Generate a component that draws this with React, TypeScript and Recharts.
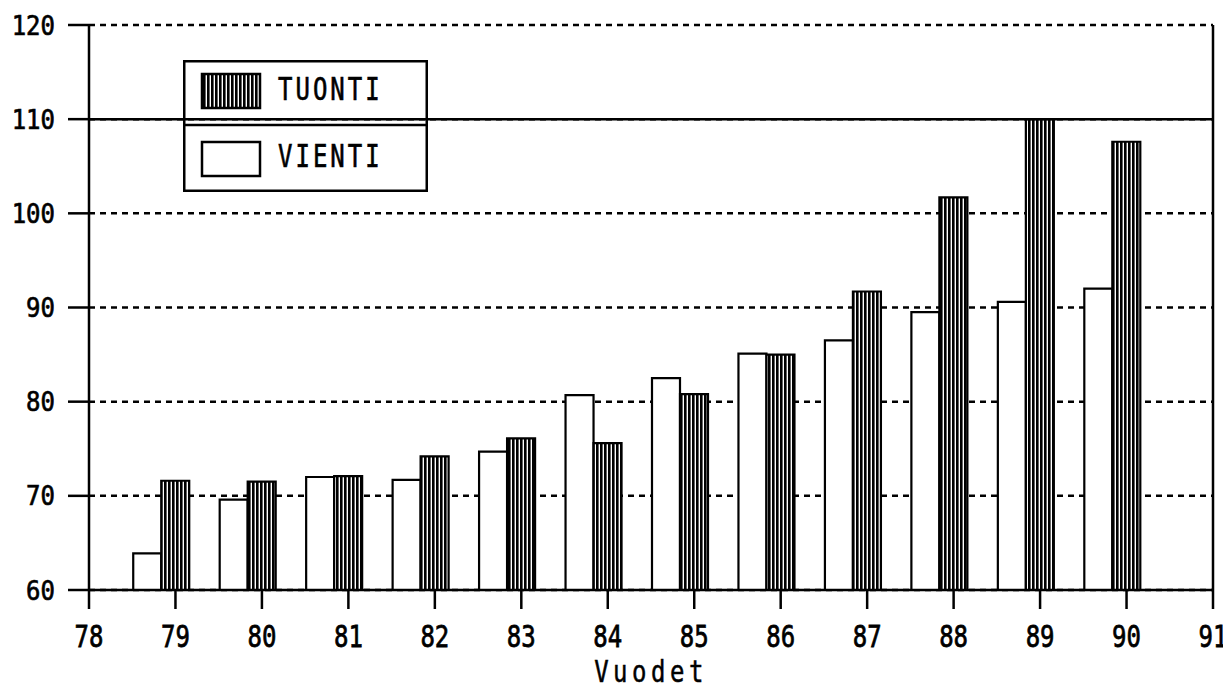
import { BarChart, Bar, XAxis, YAxis, CartesianGrid, ReferenceLine } from "recharts";

const years = [79, 80, 81, 82, 83, 84, 85, 86, 87, 88, 89, 90];
const vienti = [63.9, 69.6, 72.0, 71.7, 74.7, 80.7, 82.5, 85.1, 86.5, 89.5, 90.6, 92.0];
const tuonti = [71.6, 71.5, 72.1, 74.2, 76.1, 75.6, 80.8, 85.0, 91.7, 101.7, 110.0, 107.6];
const xTicks = [78, 79, 80, 81, 82, 83, 84, 85, 86, 87, 88, 89, 90, 91];
const yTicks = [60, 70, 80, 90, 100, 110, 120];
const legendNames = ["TUONTI", "VIENTI"];

const data = years.map((y, i) => ({ year: y, VIENTI: vienti[i], TUONTI: tuonti[i] }));

const FONT = "'DejaVu Sans Mono', monospace";

const XTick = ({ x, y, payload }: any) => (
  <g transform={`translate(${x},${y + 38})`}>
    <text transform="scale(1,1.28)" textAnchor="middle" fontFamily={FONT} fontSize={24} fill="#000" stroke="#000" strokeWidth={0.6}>
      {payload.value}
    </text>
  </g>
);

const YTick = ({ x, y, payload }: any) => (
  <g transform={`translate(${x - 13},${y + 9.5})`}>
    <text transform="scale(1,1.1)" textAnchor="end" fontFamily={FONT} fontSize={24} fill="#000" stroke="#000" strokeWidth={0.6}>
      {payload.value}
    </text>
  </g>
);

const XLabel = ({ viewBox }: any) => (
  <g transform={`translate(${viewBox.x + viewBox.width / 2},${viewBox.y + 92})`}>
    <text transform="scale(1,1.22)" textAnchor="middle" fontFamily={FONT} fontSize={24} letterSpacing={4.5} fill="#000" stroke="#000" strokeWidth={0.4}>
      Vuodet
    </text>
  </g>
);

// legend drawn as an overlay so it takes no room from the plot
const LegendBox = () => (
  <svg width={245} height={132} style={{ position: "absolute", left: 183, top: 60, display: "block" }}>
    <defs>
      <pattern id="legStripes" width={4} height={4} patternUnits="userSpaceOnUse">
        <rect width={4} height={4} fill="#fff" />
        <rect width={2.6} height={4} fill="#000" />
      </pattern>
    </defs>
    <rect x={1.25} y={1.25} width={242.5} height={129.5} fill="none" stroke="#000" strokeWidth={2.5} />
    <line x1={0} x2={245} y1={65} y2={65} stroke="#000" strokeWidth={2.5} />
    {legendNames.map((name, i) => (
      <g key={name}>
        <rect
          x={19}
          y={i === 0 ? 14 : 82}
          width={58}
          height={34}
          fill={name === "TUONTI" ? "url(#legStripes)" : "#fff"}
          stroke="#000"
          strokeWidth={2.5}
        />
        <g transform={`translate(95,${i === 0 ? 40 : 107})`}>
          <text transform="scale(1,1.3)" fontFamily={FONT} fontSize={24} letterSpacing={3} fill="#000" stroke="#000" strokeWidth={0.5}>
            {name}
          </text>
        </g>
      </g>
    ))}
  </svg>
);

export default function App() {
  return (
    <div style={{ position: "relative", width: 1223, height: 680, margin: "-8px 0 0 -8px", padding: "8px 0 0 8px" }}>
      <BarChart
        width={1223}
        height={680}
        data={data}
        margin={{ top: 17, right: 18, left: 0, bottom: 0 }}
        barGap={0}
        barSize={28}
      >
        <defs>
          <pattern id="stripes" width={4} height={4} patternUnits="userSpaceOnUse">
            <rect width={4} height={4} fill="#fff" />
            <rect width={2.6} height={4} fill="#000" />
          </pattern>
        </defs>
        <CartesianGrid vertical={false} stroke="#000" strokeWidth={2.5} strokeDasharray="6 5" />
        <XAxis
          dataKey="year"
          type="number"
          domain={[78, 91]}
          ticks={xTicks}
          interval={0}
          height={98}
          tickSize={19}
          tickMargin={0}
          tick={<XTick />}
          axisLine={{ stroke: "#000", strokeWidth: 2.5 }}
          tickLine={{ stroke: "#000", strokeWidth: 2.5 }}
          label={<XLabel />}
        />
        <YAxis
          type="number"
          domain={[60, 120]}
          ticks={yTicks}
          allowDataOverflow
          width={81}
          tickSize={21}
          tickMargin={0}
          tick={<YTick />}
          axisLine={{ stroke: "#000", strokeWidth: 2.5 }}
          tickLine={{ stroke: "#000", strokeWidth: 2.5 }}
        />
        <ReferenceLine y={110} stroke="#000" strokeWidth={2.5} />
        <ReferenceLine x={91} stroke="#000" strokeWidth={2.5} />
        <Bar dataKey="VIENTI" fill="#fff" stroke="#000" strokeWidth={2.2} isAnimationActive={false} />
        <Bar dataKey="TUONTI" fill="url(#stripes)" stroke="#000" strokeWidth={2.2} isAnimationActive={false} />
        <Bar dataKey="pad" fill="none" legendType="none" isAnimationActive={false} />
      </BarChart>
      <LegendBox />
    </div>
  );
}
